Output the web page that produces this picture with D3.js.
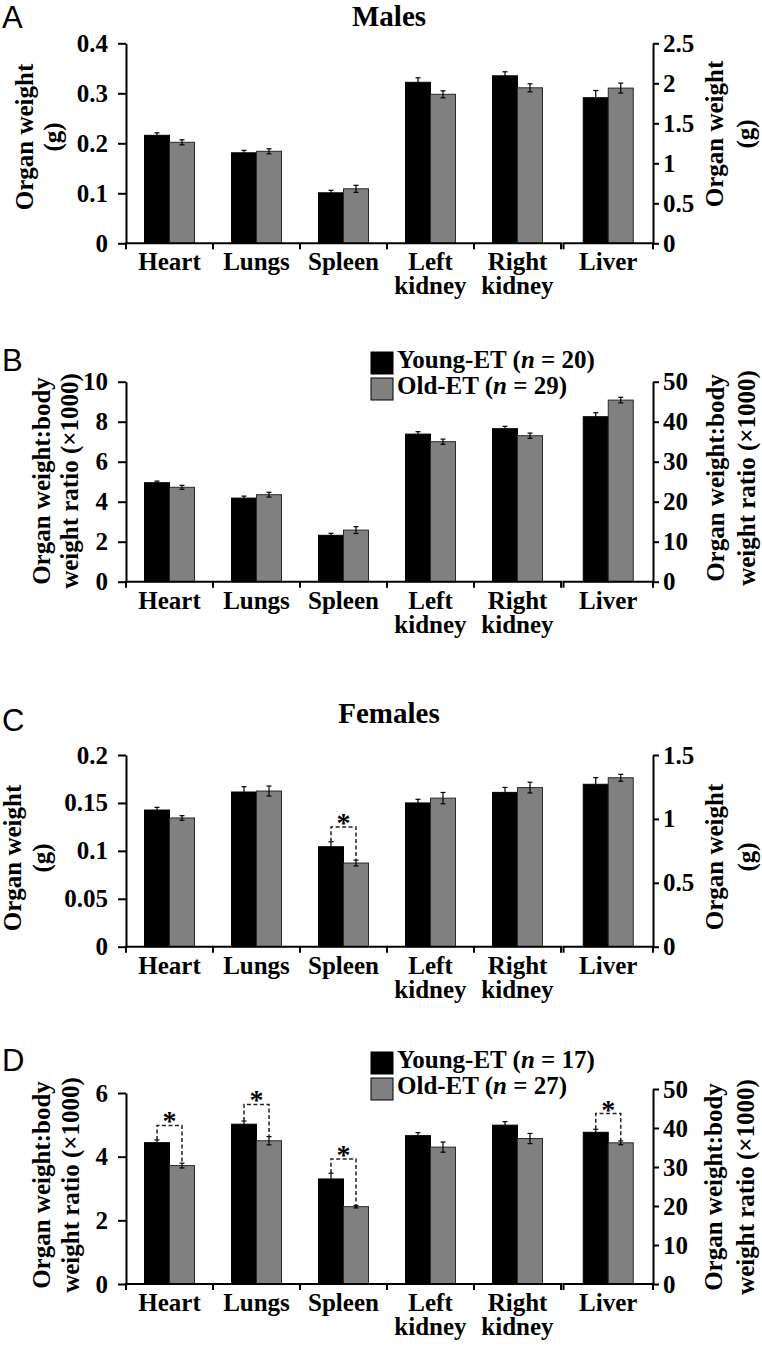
<!DOCTYPE html>
<html>
<head>
<meta charset="utf-8">
<script src="https://cdn.jsdelivr.net/npm/d3@7"></script>
<style>
  html, body { margin: 0; padding: 0; background: #fff; }
  svg { display: block; }
</style>
</head>
<body>
<script>
// ---------------- DATA ----------------
const organs = ["Heart", "Lungs", "Spleen", "Left kidney", "Right kidney", "Liver"];
const organLabelLines = [["Heart"], ["Lungs"], ["Spleen"], ["Left", "kidney"], ["Right", "kidney"], ["Liver"]];
const series = ["Young-ET", "Old-ET"];

// Males (A): organ weight (g); Liver on right axis
const maleWeightYoung    = [0.216, 0.181, 0.101, 0.322, 0.335, 1.82];
const maleWeightOld      = [0.202, 0.184, 0.109, 0.298, 0.311, 1.94];
const maleWeightErrYoung = [0.005, 0.005, 0.005, 0.009, 0.008, 0.09];
const maleWeightErrOld   = [0.005, 0.005, 0.007, 0.007, 0.008, 0.062];

// Males (B): organ weight : body weight ratio (x1000)
const maleRatioYoung    = [4.95, 4.18, 2.32, 7.38, 7.65, 41.25];
const maleRatioOld      = [4.72, 4.35, 2.58, 7.00, 7.30, 45.4];
const maleRatioErrYoung = [0.08, 0.10, 0.10, 0.12, 0.12, 1.0];
const maleRatioErrOld   = [0.10, 0.12, 0.17, 0.13, 0.13, 0.7];

// Females (C): organ weight (g)
const femaleWeightYoung    = [0.1426, 0.1614, 0.1043, 0.150, 0.161, 1.271];
const femaleWeightOld      = [0.1343, 0.1624, 0.0873, 0.155, 0.166, 1.322];
const femaleWeightErrYoung = [0.0028, 0.0055, 0.0052, 0.0038, 0.0052, 0.052];
const femaleWeightErrOld   = [0.0024, 0.0052, 0.0030, 0.0059, 0.0056, 0.027];

// Females (D): ratio
const femaleRatioYoung    = [4.44, 5.02, 3.30, 4.66, 4.99, 38.9];
const femaleRatioOld      = [3.72, 4.50, 2.43, 4.30, 4.57, 36.2];
const femaleRatioErrYoung = [0.085, 0.10, 0.18, 0.095, 0.11, 0.77];
const femaleRatioErrOld   = [0.075, 0.13, 0.04, 0.16, 0.16, 0.5];

// significance brackets (organ, bracket level in that organ's axis units)
const femaleWeightSig = [{ organ: "Spleen", level: 0.125 }];
const femaleRatioSig  = [
  { organ: "Heart", level: 4.98 },
  { organ: "Lungs", level: 5.64 },
  { organ: "Spleen", level: 3.93 },
  { organ: "Liver", level: 43.7 }
];

const maleN = [20, 29];
const femaleN = [17, 27];

// tick values and labels
const weightMaleLeftTicks  = [0, 0.1, 0.2, 0.3, 0.4];
const weightMaleLeftLabels = ["0", "0.1", "0.2", "0.3", "0.4"];
const weightMaleRightTicks  = [0, 0.5, 1, 1.5, 2, 2.5];
const weightMaleRightLabels = ["0", "0.5", "1", "1.5", "2", "2.5"];
const ratioMaleLeftTicks  = [0, 2, 4, 6, 8, 10];
const ratioMaleLeftLabels = ["0", "2", "4", "6", "8", "10"];
const ratioRightTicks  = [0, 10, 20, 30, 40, 50];
const ratioRightLabels = ["0", "10", "20", "30", "40", "50"];
const weightFemaleLeftTicks  = [0, 0.05, 0.1, 0.15, 0.2];
const weightFemaleLeftLabels = ["0", "0.05", "0.1", "0.15", "0.2"];
const weightFemaleRightTicks  = [0, 0.5, 1, 1.5];
const weightFemaleRightLabels = ["0", "0.5", "1", "1.5"];
const ratioFemaleLeftTicks  = [0, 2, 4, 6];
const ratioFemaleLeftLabels = ["0", "2", "4", "6"];

const weightAxisTitle = ["Organ weight", "(g)"];
const ratioAxisTitle  = ["Organ weight:body", "weight ratio (\u00d71000)"];

// ---------------- DRAWING ----------------
const SERIF = "'Liberation Serif','Times New Roman',Times,serif";
const SANS  = "'Liberation Sans',Arial,Helvetica,sans-serif";
const W = 762, H = 1350;
const colors = ["#000000", "#808080"];
const strokes = ["#000000", "#2a2a2a"];

const svg = d3.select("body").append("svg").attr("width", W).attr("height", H);

function drawPanel(cfg) {
  const g = svg.append("g");
  const leftCats = organs.slice(0, 5);
  const liverCats = organs.slice(5);
  const x0 = d3.scaleBand().domain(leftCats).range([126, 561]);
  const xLiv = d3.scaleBand().domain(liverCats).range([563.5, 653]);
  const groupW = 50;
  const x1 = d3.scaleBand().domain(series).range([0, groupW]);
  const yL = d3.scaleLinear().domain([0, d3.max(cfg.leftTicks)]).range([cfg.y0, cfg.topL]);
  const yR = d3.scaleLinear().domain([0, d3.max(cfg.rightTicks)]).range([cfg.y0, cfg.topR]);
  const isLiver = c => c === "Liver";
  const band = c => isLiver(c) ? xLiv : x0;
  const groupX = c => band(c)(c) + (band(c).bandwidth() - groupW) / 2;
  const yOf = c => isLiver(c) ? yR : yL;
  const barCenter = (c, s) => groupX(c) + x1(series[s]) + x1.bandwidth() / 2;

  const rows = [];
  organs.forEach((c, i) => {
    [cfg.young, cfg.old].forEach((arr, s) => {
      rows.push({ c, s, v: arr[i], e: (s === 0 ? cfg.errY : cfg.errO)[i] });
    });
  });

  // bars
  g.selectAll("rect.bar").data(rows).join("rect")
    .attr("class", "bar")
    .attr("x", d => groupX(d.c) + x1(series[d.s]))
    .attr("width", x1.bandwidth())
    .attr("y", d => yOf(d.c)(d.v))
    .attr("height", d => cfg.y0 - yOf(d.c)(d.v))
    .attr("fill", d => colors[d.s])
    .attr("stroke", d => strokes[d.s])
    .attr("stroke-width", 1);

  // error bars
  const eb = g.selectAll("g.err").data(rows).join("g").attr("class", "err")
    .attr("stroke", "#000").attr("stroke-width", 1.2);
  eb.append("line")
    .attr("x1", d => barCenter(d.c, d.s)).attr("x2", d => barCenter(d.c, d.s))
    .attr("y1", d => yOf(d.c)(d.v - d.e)).attr("y2", d => yOf(d.c)(d.v + d.e));
  [1, -1].forEach(sign => {
    eb.append("line")
      .attr("x1", d => barCenter(d.c, d.s) - 2.5).attr("x2", d => barCenter(d.c, d.s) + 2.5)
      .attr("y1", d => yOf(d.c)(d.v + sign * d.e)).attr("y2", d => yOf(d.c)(d.v + sign * d.e));
  });

  // left axis
  const axL = g.append("g").attr("transform", "translate(126,0)")
    .call(d3.axisLeft(yL).tickValues(cfg.leftTicks).tickFormat((d, i) => cfg.leftLabels[i])
      .tickSize(8).tickPadding(10).tickSizeOuter(0));
  // right axis
  const axR = g.append("g").attr("transform", "translate(653,0)")
    .call(d3.axisRight(yR).tickValues(cfg.rightTicks).tickFormat((d, i) => cfg.rightLabels[i])
      .tickSize(6).tickPadding(4).tickSizeOuter(0));
  [axL, axR].forEach(ax => {
    ax.select(".domain").attr("stroke", "#000").attr("stroke-width", 2);
    ax.selectAll(".tick line").attr("stroke", "#000").attr("stroke-width", 2);
    ax.selectAll(".tick text").attr("font-family", SERIF).attr("font-weight", "bold")
      .attr("font-size", 25).attr("fill", "#000");
  });

  // x baselines (broken between kidneys and liver)
  const segs = [x0.range(), xLiv.range()];
  segs.forEach(r => {
    g.append("line").attr("x1", r[0] - 1).attr("x2", r[1] + 1)
      .attr("y1", cfg.y0).attr("y2", cfg.y0).attr("stroke", "#000").attr("stroke-width", 2);
  });
  const bounds = leftCats.map(c => x0(c)).concat([x0.range()[1]], xLiv.range());
  g.selectAll("line.xt").data(bounds).join("line").attr("class", "xt")
    .attr("x1", d => d).attr("x2", d => d)
    .attr("y1", cfg.y0).attr("y2", cfg.y0 + 6)
    .attr("stroke", "#000").attr("stroke-width", 2);

  // category labels
  organs.forEach((c, i) => {
    const cx = band(c)(c) + band(c).bandwidth() / 2;
    const t = g.append("text").attr("text-anchor", "middle")
      .attr("font-family", SERIF).attr("font-weight", "bold").attr("font-size", 25).attr("fill", "#000");
    organLabelLines[i].forEach((ln, k) => {
      t.append("tspan").attr("x", cx).attr("y", cfg.y0 + 27 + k * 24).text(ln);
    });
  });

  // y axis titles
  function yTitle(lines, xs, cy) {
    lines.forEach((ln, k) => {
      g.append("text")
        .attr("transform", `translate(${xs[k]},${cy}) rotate(-90)`)
        .attr("text-anchor", "middle")
        .attr("font-family", SERIF).attr("font-weight", "bold").attr("font-size", 25).attr("fill", "#000")
        .text(ln);
    });
  }
  yTitle(cfg.title, cfg.leftTitleX, cfg.leftTitleY);
  yTitle(cfg.title, cfg.rightTitleX, cfg.rightTitleY);

  // significance brackets
  (cfg.sig || []).forEach(sg => {
    const i = organs.indexOf(sg.organ);
    const y = yOf(sg.organ);
    const xa = barCenter(sg.organ, 0), xb = barCenter(sg.organ, 1);
    const ya = y(cfg.young[i] + cfg.errY[i]), yb = y(cfg.old[i] + cfg.errO[i]);
    const ly = y(sg.level);
    g.append("path")
      .attr("d", `M${xa},${ya}V${ly}H${xb}V${yb}`)
      .attr("fill", "none").attr("stroke", "#222").attr("stroke-width", 1.5)
      .attr("stroke-dasharray", "4,2.5");
    g.append("text").attr("x", (xa + xb) / 2).attr("y", ly + 5)
      .attr("text-anchor", "middle").attr("font-family", SERIF).attr("font-weight", "bold")
      .attr("font-size", 28).attr("fill", "#000").text("*");
  });

  // legend
  if (cfg.legendN) {
    cfg.legendN.forEach((n, s) => {
      const by = cfg.legendY + s * 26;
      g.append("rect").attr("x", 371).attr("y", by - 16).attr("width", 22).attr("height", 22)
        .attr("fill", colors[s]).attr("stroke", "#000").attr("stroke-width", 1);
      const t = g.append("text").attr("x", 397).attr("y", by)
        .attr("font-family", SERIF).attr("font-weight", "bold").attr("font-size", 25).attr("fill", "#000");
      t.append("tspan").text(series[s] + " (");
      t.append("tspan").attr("font-style", "italic").text("n");
      t.append("tspan").text(" = " + n + ")");
    });
  }

  // panel letter
  g.append("text").attr("x", 2).attr("y", cfg.letterY)
    .attr("font-family", SANS).attr("font-size", 31).attr("fill", "#000").text(cfg.letter);
  if (cfg.heading) {
    g.append("text").attr("x", 389).attr("y", cfg.headingY).attr("text-anchor", "middle")
      .attr("font-family", SERIF).attr("font-weight", "bold").attr("font-size", 29).attr("fill", "#000")
      .text(cfg.heading);
  }
}

drawPanel({
  letter: "A", letterY: 28, heading: "Males", headingY: 26,
  y0: 243.3, topL: 43.3, topR: 43.3,
  young: maleWeightYoung, old: maleWeightOld, errY: maleWeightErrYoung, errO: maleWeightErrOld,
  leftTicks: weightMaleLeftTicks, leftLabels: weightMaleLeftLabels,
  rightTicks: weightMaleRightTicks, rightLabels: weightMaleRightLabels,
  title: weightAxisTitle, leftTitleX: [33, 61], leftTitleY: 137, rightTitleX: [723, 754], rightTitleY: 134
});

drawPanel({
  letter: "B", letterY: 371,
  y0: 581.7, topL: 381.7, topR: 381.7,
  young: maleRatioYoung, old: maleRatioOld, errY: maleRatioErrYoung, errO: maleRatioErrOld,
  leftTicks: ratioMaleLeftTicks, leftLabels: ratioMaleLeftLabels,
  rightTicks: ratioRightTicks, rightLabels: ratioRightLabels,
  title: ratioAxisTitle, leftTitleX: [50, 78], leftTitleY: 481, rightTitleX: [724, 755], rightTitleY: 478,
  legendN: maleN, legendY: 368
});

drawPanel({
  letter: "C", letterY: 731, heading: "Females", headingY: 723,
  y0: 946.7, topL: 755, topR: 755,
  young: femaleWeightYoung, old: femaleWeightOld, errY: femaleWeightErrYoung, errO: femaleWeightErrOld,
  leftTicks: weightFemaleLeftTicks, leftLabels: weightFemaleLeftLabels,
  rightTicks: weightFemaleRightTicks, rightLabels: weightFemaleRightLabels,
  title: weightAxisTitle, leftTitleX: [21, 50], leftTitleY: 858, rightTitleX: [723, 755], rightTitleY: 857,
  sig: femaleWeightSig
});

drawPanel({
  letter: "D", letterY: 1071,
  y0: 1284, topL: 1093, topR: 1089,
  young: femaleRatioYoung, old: femaleRatioOld, errY: femaleRatioErrYoung, errO: femaleRatioErrOld,
  leftTicks: ratioFemaleLeftTicks, leftLabels: ratioFemaleLeftLabels,
  rightTicks: ratioRightTicks, rightLabels: ratioRightLabels,
  title: ratioAxisTitle, leftTitleX: [50, 79], leftTitleY: 1185, rightTitleX: [722, 754], rightTitleY: 1187,
  legendN: femaleN, legendY: 1068, sig: femaleRatioSig
});
</script>
</body>
</html>
